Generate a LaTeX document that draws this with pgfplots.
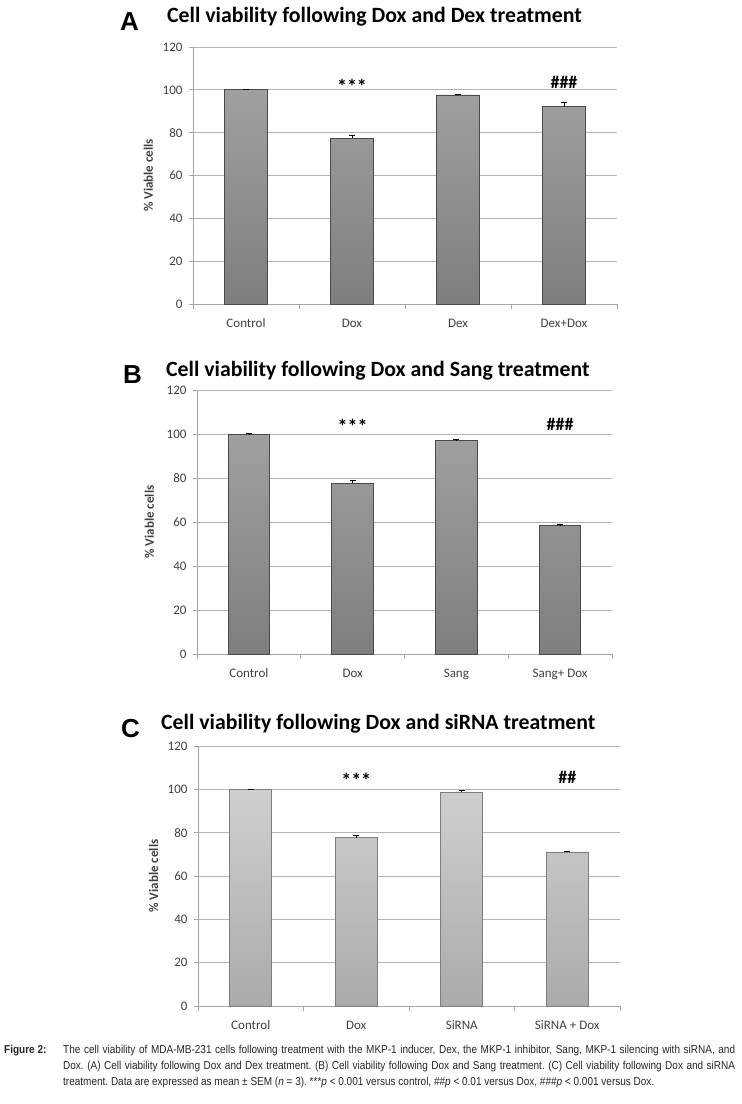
\documentclass[border=0pt]{standalone}
\usepackage{fontspec}
\setmainfont{Carlito}
\newfontfamily\letterfont{Liberation Sans}
\newfontfamily\capfont[FakeStretch=0.87]{Liberation Sans}
\usepackage{pgfplots}
\usepackage{pgfplotstable}
\pgfplotsset{compat=1.18}
\definecolor{tickcol}{HTML}{404040}
\definecolor{axcol}{HTML}{A6A6A6}
\definecolor{gridcol}{HTML}{B4B4B4}
\definecolor{darkTop}{HTML}{A0A0A0}
\definecolor{darkBot}{HTML}{7E7E7E}
\definecolor{darkEdge}{HTML}{4A4A4A}
\definecolor{lightTop}{HTML}{CFCFCF}
\definecolor{lightBot}{HTML}{AAAAAA}
\definecolor{lightEdge}{HTML}{7E7E7E}

\pgfplotstableread{
x y e
0 100.0 0.2
1 77.5 1.2
2 97.6 0.3
3 92.2 2.0
}\dataA
\pgfplotstableread{
x y e
0 100.0 0.2
1 77.7 1.4
2 97.0 0.5
3 58.3 0.6
}\dataB
\pgfplotstableread{
x y e
0 100.0 0.2
1 77.7 1.0
2 98.6 1.0
3 71.1 0.4
}\dataC

\pgfplotsset{cellbar/.style={
  scale only axis,
  ymin=0, ymax=120, ytick={0,20,...,120},
  xmin=-0.5, xmax=3.5,
  xtick={0,1,2,3}, minor xtick={-0.5,0.5,1.5,2.5,3.5},
  tick align=outside, tick pos=left,
  major tick length=4pt, minor tick length=5pt,
  major x tick style={draw=none},
  minor x tick style={color=axcol, line width=0.8pt},
  major y tick style={color=axcol, line width=0.8pt},
  ymajorgrids, grid style={color=gridcol, line width=0.9pt},
  axis x line*=bottom, axis y line*=left,
  axis line style={color=axcol, line width=0.9pt, -},
  ticklabel style={font=\fontsize{13}{15}\selectfont, color=tickcol},
  yticklabel style={xshift=-3pt},
  xticklabel style={yshift=-7pt, text height=9pt, text depth=3pt},
  /pgf/number format/assume math mode=true,
  ylabel={\% Viable cells},
  ylabel style={font=\bfseries\fontsize{13}{15}\selectfont, color=tickcol, at={(axis description cs:-0.105,0.5)}, anchor=center, rotate=0},
  ybar, bar width=0.4,
  clip=false,
}}
\pgfplotsset{errstyle/.style={
  error bars/.cd, y dir=plus, y explicit,
  error bar style={black, line width=0.7pt},
  error mark options={rotate=90, black, mark size=3pt, line width=0.7pt}}}

\begin{document}
\frenchspacing
\begin{tikzpicture}[x=1pt,y=1pt]
\path[use as bounding box] (0,0) rectangle (742,-1104);

% Panel A
\node[anchor=base west, inner sep=0, font=\letterfont\bfseries\fontsize{26}{26}\selectfont] at (120,-30) {A};
\node[anchor=base west, inner sep=0, font=\bfseries\fontsize{21.8}{24}\selectfont] at (167,-22) {Cell viability following Dox and Dex treatment};
\begin{axis}[cellbar, at={(193pt,-304pt)}, anchor=south west, width=424pt, height=257pt,
  xticklabels={Control,Dox,Dex,Dex+Dox}]
\addplot[ybar, top color=darkTop, bottom color=darkBot, draw=darkEdge, line width=0.8pt, errstyle]
  table[x=x, y=y, y error=e] {\dataA};
\node[font=\bfseries\fontsize{20}{20}\selectfont] at (axis cs:1,101.6) {***};
\node[font=\bfseries\fontsize{18}{18}\selectfont] at (axis cs:3,103.6) {\#\#\#};
\end{axis}

% Panel B
\node[anchor=base west, inner sep=0, font=\letterfont\bfseries\fontsize{26}{26}\selectfont] at (123,-383) {B};
\node[anchor=base west, inner sep=0, font=\bfseries\fontsize{21.8}{24}\selectfont] at (166,-376) {Cell viability following Dox and Sang treatment};
\begin{axis}[cellbar, at={(197pt,-654pt)}, anchor=south west, width=415pt, height=264pt,
  xticklabels={Control,Dox,Sang,Sang+ Dox},
  ylabel style={at={(axis description cs:-0.115,0.5)}}]
\addplot[ybar, top color=darkTop, bottom color=darkBot, draw=darkEdge, line width=0.8pt, errstyle]
  table[x=x, y=y, y error=e] {\dataB};
\node[font=\bfseries\fontsize{20}{20}\selectfont] at (axis cs:1,103.5) {***};
\node[font=\bfseries\fontsize{18}{18}\selectfont] at (axis cs:3,104.3) {\#\#\#};
\end{axis}

% Panel C
\node[anchor=base west, inner sep=0, font=\letterfont\bfseries\fontsize{26}{26}\selectfont] at (121,-737) {C};
\node[anchor=base west, inner sep=0, font=\bfseries\fontsize{21.8}{24}\selectfont] at (161,-729) {Cell viability following Dox and siRNA treatment};
\begin{axis}[cellbar, at={(198pt,-1006pt)}, anchor=south west, width=422pt, height=260pt,
  xticklabels={Control,Dox,SiRNA,SiRNA + Dox}]
\addplot[ybar, top color=lightTop, bottom color=lightBot, draw=lightEdge, line width=0.8pt, errstyle]
  table[x=x, y=y, y error=e] {\dataC};
\node[font=\bfseries\fontsize{20}{20}\selectfont] at (axis cs:1,104) {***};
\node[font=\bfseries\fontsize{18}{18}\selectfont] at (axis cs:3,105.5) {\#\#};
\end{axis}

% Caption
\node[anchor=north west, inner sep=0, font=\capfont\bfseries\fontsize{11.5}{16}\selectfont, color=black!85] at (4,-1045) {Figure 2:};
\node[anchor=north west, inner sep=0, text width=672pt, align=justify, font=\capfont\fontsize{11.5}{16}\selectfont, color=black!85] at (63,-1045) {The cell viability of MDA-MB-231 cells following treatment with the MKP-1 inducer, Dex, the MKP-1 inhibitor, Sang, MKP-1 silencing with siRNA, and\linebreak Dox. (A) Cell viability following Dox and Dex treatment. (B) Cell viability following Dox and Sang treatment. (C) Cell viability following Dox and siRNA\linebreak treatment. Data are expressed as mean ± SEM (\textit{n} = 3). ***\textit{p} < 0.001 versus control, \#\#\textit{p} < 0.01 versus Dox, \#\#\#\textit{p} < 0.001 versus Dox.};
\end{tikzpicture}
\end{document}
